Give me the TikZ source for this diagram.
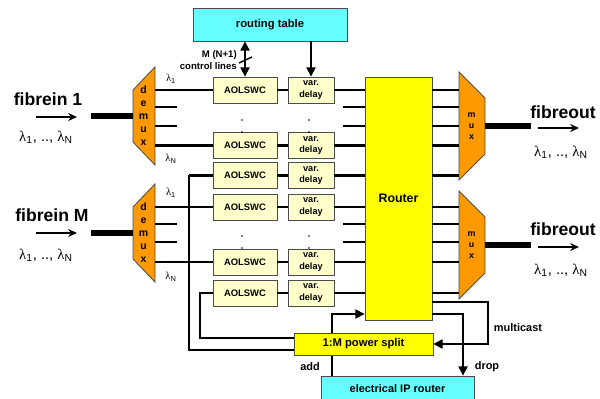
\documentclass[tikz,border=0pt]{standalone}
\usepackage{fontspec}
\setmainfont{Liberation Sans}
\newfontfamily\lamfont{Liberation Serif}
\usepackage{tikz}
\usetikzlibrary{arrows.meta,positioning,backgrounds}
\definecolor{tablecyan}{HTML}{66FFFF}
\definecolor{swpale}{HTML}{FFFFCC}
\definecolor{routeryel}{HTML}{FFFF00}
\definecolor{muxorange}{HTML}{FF9900}
\newcommand{\lam}[1]{{\lamfont λ}\textsubscript{#1}}
\newcommand{\lamrange}{\lam{1}, .., \lam{N}}
\newcommand{\demuxshape}[2]{\draw[unit] (133,{#2-26}) -- (155,{#2-49}) -- (155,{#2+49}) -- (133,{#2+26}) -- cycle;
  \coordinate (#1) at (155,#2);\coordinate (#1in) at (133,#2);
  \node[muxtxt,font=\bfseries\fontsize{7.5}{9.3}\selectfont] at (143.5,#2) {d\\e\\m\\u\\x};}
\newcommand{\muxshape}[2]{\draw[unit] (459,{#2-54}) -- (485,{#2-28}) -- (485,{#2+28}) -- (459,{#2+54}) -- cycle;
  \coordinate (#1) at (459,#2);\coordinate (#1out) at (485,#2);
  \node[muxtxt,font=\bfseries\fontsize{6.3}{7.8}\selectfont] at (471.5,#2) {m\\u\\x};}

\begin{document}
\begin{tikzpicture}[x=0.25mm,y=-0.25mm,>={Triangle[length=2.3mm,width=2.3mm]},
  box/.style={draw=black!70,line width=0.6pt,inner sep=0pt,align=center},
  swbox/.style={box,fill=swpale,minimum width=16mm,minimum height=6.5mm,font=\bfseries\fontsize{6.7}{7.5}\selectfont},
  dlbox/.style={box,fill=swpale,minimum width=11.5mm,minimum height=6.5mm,font=\bfseries\fontsize{6.5}{8.3}\selectfont},
  unit/.style={draw=black!70,line width=0.6pt,fill=muxorange},
  muxtxt/.style={align=center,inner sep=0pt},
  sig/.style={line width=2.1pt},
  fibre/.style={line width=4pt},
  ctl/.style={line width=1pt},
  fb/.style={line width=1.2pt},
  bigtxt/.style={font=\bfseries\fontsize{12.5}{14}\selectfont},
  lamtxt/.style={font=\fontsize{10.5}{12}\selectfont},
  lbl/.style={font=\bfseries\fontsize{7.8}{9}\selectfont}]
  \useasboundingbox (0,0) rectangle (600,399);
  \node[box,fill=tablecyan,minimum width=38.5mm,minimum height=8.25mm,font=\bfseries\fontsize{8}{9}\selectfont] (rt) at (270,24.5) {routing table};
  \node[box,fill=routeryel,minimum width=16.75mm,minimum height=60.75mm,font=\bfseries\fontsize{8.8}{10}\selectfont] (rtr) at (398.5,198.5) {Router};
  \node[box,fill=routeryel,minimum width=34.75mm,minimum height=5.5mm,font=\bfseries\fontsize{8}{9}\selectfont] (ps) at (363.5,344) {1:M power split};
  \node[box,fill=tablecyan,minimum width=38.25mm,minimum height=6.5mm,font=\bfseries\fontsize{7.8}{9}\selectfont] (ip) at (397.5,389) {electrical IP router};
  \foreach \i/\y in {1/90,2/145.5,3/175.5,4/207,5/262,6/293}{
    \node[swbox] (sw\i) at (245,\y) {AOLSWC};
    \node[dlbox] (dl\i) at (311,\y) {var.\\delay};
    \draw[sig] (sw\i) -- (dl\i);
    \draw[sig] (dl\i) -- (dl\i -| rtr.west);
  }
  % wavelength (de)multiplexers
  \demuxshape{dm1}{116}
  \demuxshape{dmM}{233}
  \muxshape{mx1}{126}
  \muxshape{mxM}{245}
  \draw[fibre] (dm1in) -- ++(-42,0);
  \draw[fibre] (dmMin) -- ++(-42,0);
  \draw[fibre] (mx1out) -- ++(46,0);
  \draw[fibre] (mxMout) -- ++(46,0);
  \draw[sig] (dm1 |- sw1) -- (sw1);
  \draw[sig] (dm1 |- sw2) -- (sw2);
  \draw[sig] (dmM |- sw4) -- (sw4);
  \draw[sig] (dmM |- sw5) -- (sw5);
  \foreach \y in {107,126,224,242}{
    \draw[sig] (dm1 |- 0,\y) -- ++(22,0);
    \draw[sig] (rtr.west |- 0,\y) -- ++(-22,0);
  }
  \foreach \y in {90,107,126,145.5,175.5} \draw[sig] (rtr.east |- 0,\y) -- (mx1 |- 0,\y);
  \foreach \y in {207,224,242,262,293} \draw[sig] (rtr.east |- 0,\y) -- (mxM |- 0,\y);
  \foreach \x in {242,309} \foreach \y in {120,132,236,248} \fill (\x,\y) circle[radius=0.8];
  % labels of the fibres
  \node[bigtxt] (fi1) at (48,99) {fibrein 1};
  \node[bigtxt] (fiM) at (52,215) {fibrein M};
  \node[bigtxt] (fo1) at (563,112) {fibreout};
  \node[bigtxt] (foM) at (563,229) {fibreout};
  \node[lamtxt] (li1) at (46,137) {\lamrange};
  \node[lamtxt] (liM) at (46,255) {\lamrange};
  \node[lamtxt] (lo1) at (561,152) {\lamrange};
  \node[lamtxt] (loM) at (561,270) {\lamrange};
  \foreach \x/\y in {36/117,36/233,538/128,538/247}
    \draw[ctl,-{Stealth[length=2.2mm,width=2mm]}] (\x,\y) -- ++(41,0);
  \foreach \y/\s in {79/1,159/N,193/1,277/N}
    \node[font=\fontsize{7.5}{9}\selectfont] at (171,\y) {\lam{\s}};
  % control lines
  \draw[ctl,<->] (rt.south -| sw1) -- (sw1);
  \draw[ctl] (239,63) -- (252,57);
  \node[align=right,anchor=east,inner sep=0pt,font=\bfseries\fontsize{6.8}{8.3}\selectfont] (cl) at (237,60) {M (N+1)\\control lines};
  \draw[ctl,->] (rt.south -| dl1) -- (dl1);
  % power split feedback, add and drop
  \coordinate (fbo) at (189,350);
  \coordinate (fbi) at (200,338);
  \coordinate (addc) at (332,314);
  \coordinate (dropc) at (463,314);
  \coordinate (mcc) at (488,302);
  \draw[fb] (ps.west |- fbo) -- (fbo) |- (sw3);
  \draw[fb] (ps.west |- fbi) -- (fbi) |- (sw6);
  \draw[sig] (sw3) -- (sw3 -| fbo);
  \draw[sig] (sw6) -- (sw6 -| fbi);
  \begin{scope}[on background layer]
    \draw[ctl,->] (ip.north -| addc) -- (addc) -- (addc -| rtr.west);
  \end{scope}
  \draw[ctl,->] (rtr.east |- dropc) -- (dropc) -- (dropc |- ip.north);
  \draw[ctl,->] (rtr.east |- mcc) -- (mcc) |- (ps.east);
  \node[lbl] at (518,328) {multicast};
  \node[lbl] at (487,367) {drop};
  \node[lbl] at (310,367) {add};
\end{tikzpicture}
\end{document}
